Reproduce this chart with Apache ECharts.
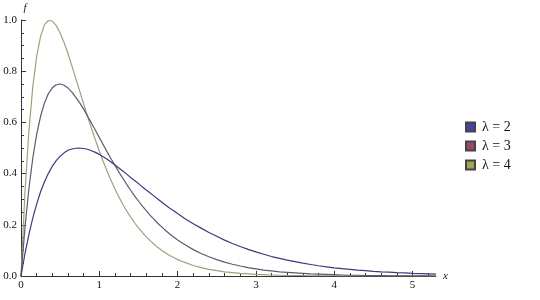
<!DOCTYPE html>
<html>
<head>
<meta charset="utf-8">
<script src="https://cdn.jsdelivr.net/npm/echarts@6/dist/echarts.min.js"></script>
<style>html,body{margin:0;padding:0;background:#fff}#c{width:540px;height:300px}</style>
</head>
<body>
<div id="c"></div>
<script>
// x sample positions and curve values
const xs = [0,0.05,0.1,0.15,0.2,0.25,0.3,0.35,0.4,0.45,0.5,0.55,0.6,0.65,0.7,0.75,0.8,0.85,0.9,0.95,
  1.0,1.05,1.1,1.15,1.2,1.25,1.3,1.35,1.4,1.45,1.5,1.55,1.6,1.65,1.7,1.75,1.8,1.85,1.9,1.95,2.0,
  2.1,2.2,2.3,2.4,2.5,2.6,2.7,2.8,2.9,3.0,3.1,3.2,3.3,3.4,3.5,3.6,3.7,3.8,3.9,4.0,
  4.1,4.2,4.3,4.4,4.5,4.6,4.7,4.8,4.9,5.0,5.1,5.2,5.3];
const lambda2 = [0,0.086,0.161,0.226,0.281,0.329,0.368,0.401,0.429,0.451,0.468,0.481,0.491,0.496,0.499,0.500,0.498,0.495,0.489,0.483,
  0.475,0.466,0.456,0.445,0.434,0.422,0.410,0.398,0.385,0.373,0.361,0.348,0.336,0.324,0.312,0.300,0.288,0.276,0.265,0.255,0.244,
  0.223,0.204,0.187,0.170,0.155,0.140,0.127,0.115,0.104,0.094,0.085,0.076,0.069,0.062,0.056,0.050,0.045,0.040,0.036,0.032,
  0.029,0.026,0.023,0.021,0.018,0.016,0.015,0.013,0.012,0.010,0.009,0.008,0.007];
const lambda3 = [0,0.188,0.339,0.459,0.553,0.624,0.676,0.713,0.735,0.747,0.750,0.745,0.734,0.718,0.698,0.676,0.652,0.624,0.597,0.569,
  0.541,0.513,0.485,0.458,0.432,0.406,0.382,0.358,0.335,0.313,0.293,0.273,0.255,0.237,0.221,0.205,0.191,0.177,0.164,0.152,0.141,
  0.121,0.103,0.088,0.075,0.064,0.054,0.046,0.039,0.033,0.028,0.023,0.020,0.016,0.014,0.012,0.010,0.008,0.007,0.006,0.005,
  0.004,0.003,0.003,0.002,0.002,0.002,0.001,0.001,0.001,0.001,0.001,0.001,0.000];
const lambda4 = [0,0.322,0.563,0.737,0.858,0.936,0.982,0.998,0.996,0.978,0.949,0.912,0.869,0.821,0.771,0.722,0.672,0.624,0.576,0.531,
  0.488,0.447,0.409,0.373,0.340,0.309,0.280,0.254,0.230,0.208,0.188,0.170,0.153,0.138,0.124,0.111,0.100,0.090,0.080,0.072,0.064,
  0.052,0.041,0.033,0.026,0.021,0.016,0.013,0.010,0.008,0.006,0.005,0.004,0.003,0.002,0.002,0.002,0.001,0.001,0.001,0.001,
  0,0,0,0,0,0,0,0,0,0,0,0,0];
const seriesNames = ['λ = 2', 'λ = 3', 'λ = 4'];
const xMajor = [0, 1, 2, 3, 4, 5];
const xMinor = [0.2,0.4,0.6,0.8,1.2,1.4,1.6,1.8,2.2,2.4,2.6,2.8,3.2,3.4,3.6,3.8,4.2,4.4,4.6,4.8,5.2];
const yMajor = [0, 0.2, 0.4, 0.6, 0.8, 1.0];
const yMinor = [0.05,0.1,0.15,0.25,0.3,0.35,0.45,0.5,0.55,0.65,0.7,0.75,0.85,0.9,0.95];

const lineColors = ['#3b3b7c', '#625770', '#a39f7e'];
const legendColors = ['#4343a0', '#a0456f', '#a3a352'];
const serif = '"Liberation Serif", "Times New Roman", serif';
const axisColor = '#333';

const chart = echarts.init(document.getElementById('c'), null, {renderer: 'canvas'});
const curves = [lambda2, lambda3, lambda4];

const commonX = {type: 'value', min: 0, max: 5.3, splitLine: {show: false}};
const commonY = {type: 'value', min: 0, max: 1.0, splitLine: {show: false}};

chart.setOption({
  animation: false,
  grid: {left: 21, right: 104, top: 20, bottom: 24, containLabel: false},
  legend: {
    orient: 'vertical', left: 465, top: 120,
    icon: 'rect', itemWidth: 9, itemHeight: 9, itemGap: 5,
    padding: 0,
    textStyle: {fontFamily: serif, fontSize: 14, color: '#111', padding: [0, 0, 0, 2]},
    data: seriesNames
  },
  xAxis: [
    Object.assign({}, commonX, {
      name: 'x', nameLocation: 'end', nameGap: 7,
      nameTextStyle: {fontFamily: serif, fontStyle: 'italic', fontSize: 11, color: '#222', padding: [4, 0, 0, 0]},
      axisLine: {lineStyle: {color: axisColor, width: 1}},
      axisTick: {inside: true, length: 5, customValues: xMajor, lineStyle: {color: axisColor}},
      axisLabel: {customValues: xMajor, fontFamily: serif, fontSize: 11, color: '#111', margin: 4,
        formatter: v => String(v)}
    }),
    Object.assign({}, commonX, {
      position: 'bottom',
      axisLine: {show: false},
      axisTick: {inside: true, length: 3, customValues: xMinor, lineStyle: {color: axisColor}},
      axisLabel: {show: false}
    })
  ],
  yAxis: [
    Object.assign({}, commonY, {
      name: 'f', nameLocation: 'end', nameGap: 6,
      nameTextStyle: {fontFamily: serif, fontStyle: 'italic', fontSize: 11, color: '#222', padding: [0, 0, 0, 8]},
      axisLine: {lineStyle: {color: axisColor, width: 1}},
      axisTick: {inside: true, length: 5, customValues: yMajor, lineStyle: {color: axisColor}},
      axisLabel: {customValues: yMajor, fontFamily: serif, fontSize: 11, color: '#111', margin: 4,
        formatter: v => v.toFixed(1)}
    }),
    Object.assign({}, commonY, {
      position: 'left',
      axisLine: {show: false},
      axisTick: {inside: true, length: 3, customValues: yMinor, lineStyle: {color: axisColor}},
      axisLabel: {show: false}
    })
  ],
  series: curves.map((arr, i) => ({
    name: seriesNames[i],
    type: 'line',
    xAxisIndex: 0, yAxisIndex: 0,
    data: xs.map((x, j) => [x, arr[j]]),
    showSymbol: false,
    smooth: false,
    lineStyle: {color: lineColors[i], width: 1.2},
    itemStyle: {color: legendColors[i], borderColor: '#444', borderWidth: 0.6},
    z: 3 - i
  }))
});
</script>
</body>
</html>
